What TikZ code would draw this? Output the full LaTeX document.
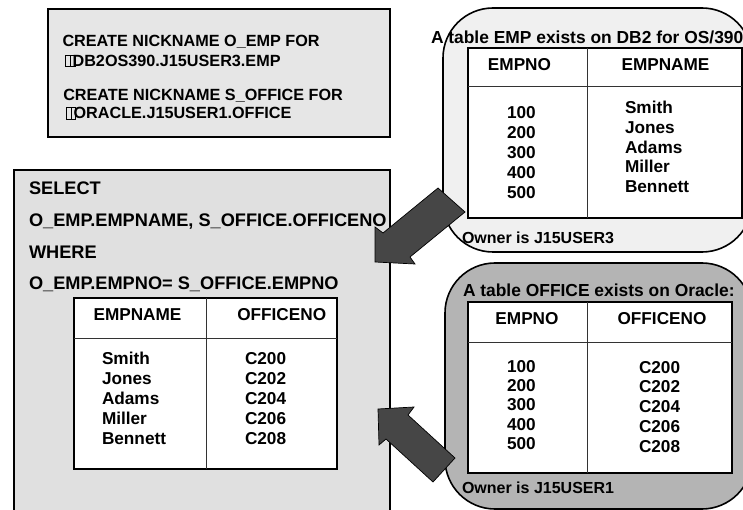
\documentclass[tikz,border=0pt]{standalone}
\usepackage{fontspec}
\setmainfont{Liberation Sans}
\definecolor{leftgray}{HTML}{E0E0E0}
\definecolor{topgray}{HTML}{E6E6E6}
\definecolor{upfill}{HTML}{F0F0F0}
\definecolor{lowfill}{HTML}{B4B4B4}
\definecolor{arrowfill}{HTML}{464646}
\tikzset{
  boxline/.style={draw=black, line width=1.6pt},
  tabouter/.style={draw=black, line width=2pt, fill=white},
  tabinner/.style={draw=black!80, line width=1pt},
  bigarrow/.style={fill=arrowfill, draw=black, line width=0.7pt, line join=miter},
  glyphbox/.style={draw=black, line width=0.6pt},
  tA/.style={inner sep=0pt, outer sep=0pt, anchor=base west, font=\fontsize{16.2}{20}\selectfont\bfseries},
  tB/.style={inner sep=0pt, outer sep=0pt, anchor=base west, font=\fontsize{18.2}{22}\selectfont\bfseries},
  tC/.style={inner sep=0pt, outer sep=0pt, anchor=base west, font=\fontsize{17.2}{20}\selectfont\bfseries},
  tCc/.style={inner sep=0pt, outer sep=0pt, anchor=base, font=\fontsize{17.2}{20}\selectfont\bfseries},
  tD/.style={inner sep=0pt, outer sep=0pt, anchor=base west, font=\fontsize{17.4}{20}\selectfont\bfseries},
  tE/.style={inner sep=0pt, outer sep=0pt, anchor=base west, font=\fontsize{16}{20}\selectfont\bfseries},
}
\begin{document}
\begin{tikzpicture}[x=1pt,y=-1pt]
\useasboundingbox (0,0) rectangle (743,510);
\clip (0,0) rectangle (743,510);
% boxes
\draw[boxline, fill=leftgray] (14,170) rectangle (390,525);
\draw[boxline, fill=topgray] (48,9) rectangle (390,137);
\draw[boxline, fill=upfill, rounded corners=50pt] (443,8) rectangle (752,252);
\draw[boxline, fill=lowfill, rounded corners=50pt] (445,263) rectangle (752,509);
% top-left text
\node[tA] (c1) at (62.5,46.6) {CREATE NICKNAME O\_EMP FOR};
\draw[glyphbox] (65.7,55) rectangle (70.3,66.7);
\draw[glyphbox] (70.3,55) rectangle (75,66.7);
\node[tA] (c2) at (72.6,66.5) {DB2OS390.J15USER3.EMP};
\node[tA] (c3) at (63.3,100.8) {CREATE NICKNAME S\_OFFICE FOR};
\draw[glyphbox] (66.7,107.5) rectangle (71.2,119);
\draw[glyphbox] (71.2,107.5) rectangle (75.7,119);
\node[tA] (c4) at (73.6,118.6) {ORACLE.J15USER1.OFFICE};
% left SQL
\node[tB] (s1) at (29,194.7) {SELECT};
\node[tB] (s2) at (29,226.4) {O\_EMP.EMPNAME, S\_OFFICE.OFFICENO};
\node[tB] (s3) at (29,258.1) {WHERE};
\node[tB] (s4) at (29,289.4) {O\_EMP.EMPNO= S\_OFFICE.EMPNO};
% left table
\draw[tabouter] (74,298) rectangle (337,469);
\draw[tabinner] (206,298) -- (206,469);
\draw[tabinner] (74,338) -- (337,338);
\node[tCc] (lh1) at (137.5,320) {EMPNAME};
\node[tCc] (lh2) at (281.7,320) {OFFICENO};
\foreach \n/\o [count=\i from 0] in {Smith/C200,Jones/C202,Adams/C204,Miller/C206,Bennett/C208} {
  \node[tC] (ln\i) at (102,364+20.2*\i) {\n};
  \node[tC] (lo\i) at (245,364+20.2*\i) {\o};
}
% upper right
\node[tD] (ut) at (431,43.3) {A table EMP exists on DB2 for OS/390};
\draw[tabouter] (468,48) rectangle (741.5,218);
\draw[tabinner] (587,48) -- (587,218);
\draw[tabinner] (468,87) -- (741.5,87);
\node[tCc] (uh1) at (519.5,71) {EMPNO};
\node[tCc] (uh2) at (665.5,71) {EMPNAME};
\foreach \k/\n [count=\i from 0] in {100/Smith,200/Jones,300/Adams,400/Miller,500/Bennett} {
  \node[tC] (uk\i) at (507,119+19.8*\i) {\k};
  \node[tC] (un\i) at (625,113.5+19.8*\i) {\n};
}
\node[tE] (uo) at (462,243.3) {Owner is J15USER3};
% lower right
\node[tD] (lt) at (463,296.7) {A table OFFICE exists on Oracle:};
\draw[tabouter] (468,302) rectangle (732,473);
\draw[tabinner] (587,302) -- (587,473);
\draw[tabinner] (468,342) -- (732,342);
\node[tCc] (rh1) at (527,324) {EMPNO};
\node[tCc] (rh2) at (662,324) {OFFICENO};
\foreach \k/\o [count=\i from 0] in {100/C200,200/C202,300/C204,400/C206,500/C208} {
  \node[tC] (rk\i) at (507,372+19.4*\i) {\k};
  \node[tC] (ro\i) at (639,373+19.8*\i) {\o};
}
\node[tE] (lo) at (462,493.3) {Owner is J15USER1};
% arrows
\draw[bigarrow] (438,188) -- (383,233) -- (375,227) -- (375,262) -- (415,264) -- (410,257) -- (465,212) -- cycle;
\draw[bigarrow] (378,409) -- (414,407) -- (408,415) -- (455,458) -- (433,482) -- (386,439) -- (379,445) -- cycle;
\end{tikzpicture}
\end{document}
